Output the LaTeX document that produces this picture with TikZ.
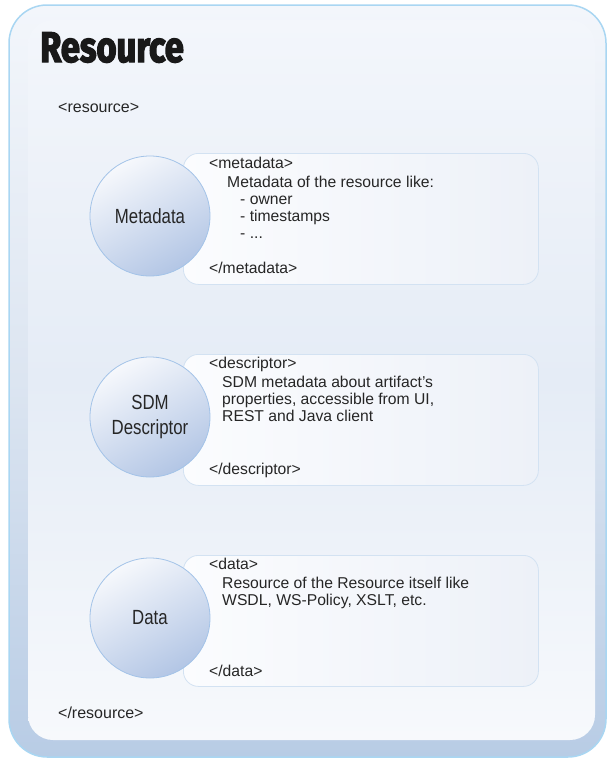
\documentclass[tikz,border=0pt]{standalone}
\usepackage{fontspec}
\setmainfont{Liberation Sans}
\newfontfamily\labelfont[FakeStretch=0.82]{Liberation Sans}
\newfontfamily\titlefont[FakeStretch=0.8,BoldFeatures={FakeBold=3}]{Fira Sans}
\usetikzlibrary{calc}

\definecolor{frametop}{HTML}{F3F6FB}
\definecolor{framemid}{HTML}{DCE5F1}
\definecolor{framebot}{HTML}{B8CCE5}
\definecolor{frameline}{HTML}{A9D6F2}
\definecolor{panelmid}{HTML}{E5ECF6}
\definecolor{panelbot}{HTML}{F7F9FC}
\definecolor{boxline}{HTML}{D3E2F2}
\definecolor{boxleft}{HTML}{FBFCFE}
\definecolor{boxright}{HTML}{EDF1F8}
\definecolor{ballline}{HTML}{A3C3E8}
\definecolor{balllight}{HTML}{F6F8FC}
\definecolor{balldark}{HTML}{B3C6E5}
\definecolor{txt}{HTML}{262626}

\begin{document}
\begin{tikzpicture}[x=1pt,y=-1pt]
            \tikzstyle{ball}=[circle,draw=ballline,line width=0.8,minimum size=120,inner sep=0,top color=balllight,bottom color=balldark,shading angle=30,font=\labelfont\fontsize{20.5}{25}\selectfont,text=txt,align=center];
            \tikzstyle{tagbox}=[draw=boxline,line width=0.8,rounded corners=15,left color=boxleft,right color=boxright,minimum width=355,minimum height=131,anchor=north west,inner sep=0];
            \tikzstyle{line}=[anchor=base west,inner sep=0,font=\fontsize{15.7}{18}\selectfont,text=txt];
            \useasboundingbox (0,0) rectangle (607,758);
            % frame and panel
            \draw[frameline,line width=1.5,rounded corners=38,top color=frametop,bottom color=framebot,middle color=framemid] (9,5) rectangle (606,757);
            \shade[rounded corners=25,top color=frametop,bottom color=panelbot,middle color=panelmid] (28,20) rectangle (595,740);
            \node[anchor=base west,inner sep=0,font=\titlefont\bfseries\fontsize{43}{48}\selectfont,text=black!90] (title) at (40,62) {Resource};
            \node[line,font=\fontsize{16}{18}\selectfont] (resopen) at (58,112) {<resource>};
            \node[line,font=\fontsize{16}{18}\selectfont] (resclose) at (58,718) {</resource>};
            % boxes
            \foreach \y/\n in {153/metabox,354/descbox,555/databox}
                \node[tagbox] (\n) at (183,\y) {};
            \node[ball] (meta) at (150,216) {Metadata};
            \node[ball] (desc) at (150,417) {SDM\\Descriptor};
            \node[ball] (data) at (150,618) {Data};
            % metadata text
            \node[line] (m1) at (209,168) {<metadata>};
            \node[line] (m2) at (227,187) {Metadata of the resource like:};
            \node[line] (m3) at (240,204) {- owner};
            \node[line] (m4) at (240,221) {- timestamps};
            \node[line] (m5) at (240,238) {- ...};
            \node[line] (m6) at (209,273) {</metadata>};
            % descriptor text
            \node[line] (d1) at (209,368) {<descriptor>};
            \node[line] (d2) at (222,387) {SDM metadata about artifact's};
            \node[line] (d3) at (222,404) {properties, accessible from UI,};
            \node[line] (d4) at (222,421) {REST and Java client};
            \node[line] (d5) at (209,474) {</descriptor>};
            % data text
            \node[line] (a1) at (209,569) {<data>};
            \node[line] (a2) at (222,588) {Resource of the Resource itself like};
            \node[line] (a3) at (222,605) {WSDL, WS-Policy, XSLT, etc.};
            \node[line] (a4) at (209,676) {</data>};
\end{tikzpicture}
\end{document}
